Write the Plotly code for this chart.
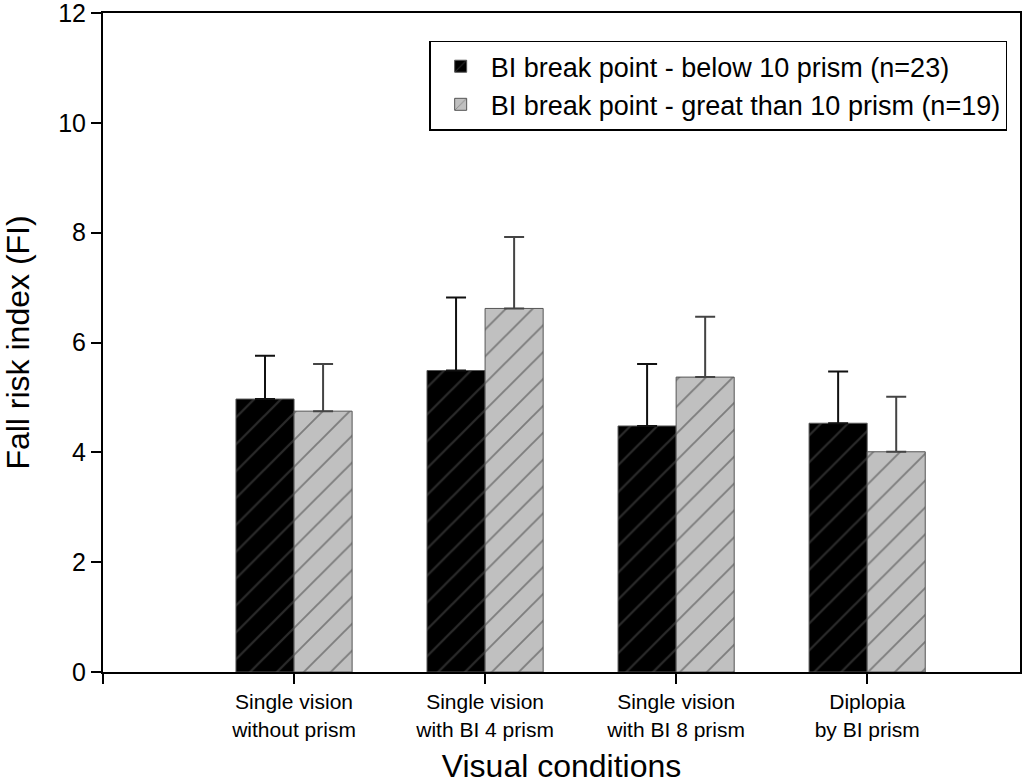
"""Fall risk index by visual condition, grouped by BI break point."""
import plotly.graph_objects as go

conditions = [
    "Single vision<br>without prism",
    "Single vision<br>with BI 4 prism",
    "Single vision<br>with BI 8 prism",
    "Diplopia<br>by BI prism",
]
below_mean = [4.97, 5.49, 4.48, 4.53]
below_err = [0.79, 1.33, 1.13, 0.94]
above_mean = [4.75, 6.62, 5.37, 4.01]
above_err = [0.86, 1.30, 1.10, 1.00]

FONT = "Arial, 'Liberation Sans', sans-serif"
xpos = list(range(len(conditions)))

fig = go.Figure()
fig.add_bar(
    x=xpos, y=below_mean,
    name="BI break point - below 10 prism (n=23)",
    marker=dict(
        color="#000000",
        line=dict(color="#555555", width=1),
        pattern=dict(shape="/", fgcolor="#555555", bgcolor="#000000",
                     size=19, solidity=0.12),
    ),
    error_y=dict(type="data", symmetric=False, array=below_err,
                 arrayminus=[0] * 4, color="#111111", thickness=2, width=10),
)
fig.add_bar(
    x=xpos, y=above_mean,
    name="BI break point - great than 10 prism (n=19)",
    marker=dict(
        color="#c0c0c0",
        line=dict(color="#555555", width=1),
        pattern=dict(shape="/", fgcolor="#3a3a3a", bgcolor="#c0c0c0",
                     size=19, solidity=0.1),
    ),
    error_y=dict(type="data", symmetric=False, array=above_err,
                 arrayminus=[0] * 4, color="#444444", thickness=2, width=10),
)

fig.update_layout(
    width=1024, height=784,
    margin=dict(l=103, r=4, t=13, b=112, autoexpand=False),
    paper_bgcolor="white", plot_bgcolor="white",
    barmode="group", bargap=0.392, bargroupgap=0,
    font=dict(family=FONT, color="black"),
    legend=dict(
        x=0.986, y=0.958, xanchor="right", yanchor="top",
        bordercolor="black", borderwidth=1.5, bgcolor="white",
        font=dict(size=27, family=FONT),
        itemwidth=50, tracegroupgap=0,
    ),
)
fig.update_xaxes(
    range=[-1, 3.8], automargin=False,
    tickmode="array", tickvals=[-1] + xpos, ticktext=[""] + conditions,
    tickfont=dict(size=21),
    ticks="outside", ticklen=10, tickwidth=2, tickcolor="black",
    showline=True, linewidth=2, linecolor="black", mirror=True,
    showgrid=False, zeroline=False,
    title=dict(text="Visual conditions", font=dict(size=32), standoff=20),
)
fig.update_yaxes(
    range=[0, 12], tickvals=[0, 2, 4, 6, 8, 10, 12], automargin=False,
    tickfont=dict(size=25), ticklabeloverflow="allow",
    ticks="outside", ticklen=10, tickwidth=2, tickcolor="black",
    showline=True, linewidth=2, linecolor="black", mirror=True,
    showgrid=False, zeroline=False,
    title=dict(text="Fall risk index (FI)", font=dict(size=32), standoff=26),
)

# the page's default body margin would shift the figure by 8px
fig.write_html("out.html", config={"displayModeBar": False},
               post_script="document.body.style.margin = '0';")
